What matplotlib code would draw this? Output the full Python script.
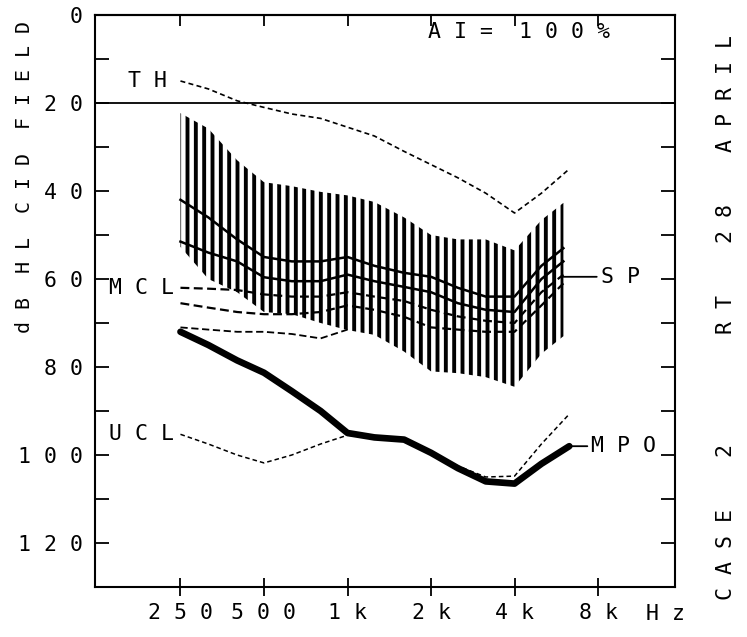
import matplotlib
matplotlib.use("Agg")
import matplotlib.pyplot as plt

# 1/3-octave frequencies used for the curves
freqs = [250, 315, 400, 500, 630, 800, 1000, 1250, 1600, 2000, 2500, 3150, 4000, 5000, 6300]
th_db = [15, 16.8, 19.5, 21, 22.5, 23.5, 25.5, 27.5, 31, 34, 37, 40.5, 45, 40.5, 35]
mpo_db = [72, 75, 78.5, 81.3, 85.5, 90, 95, 96, 96.5, 99.5, 103, 106, 106.5, 102, 98]
ucl_db = [95.3, 97.5, 100, 101.8, 100, 97.5, 95.5, 96, 96.5, 99.5, 102.5, 105, 104.8, 97.5, 90.7]

# amplified speech range (hatched band) and its inner curves
band_f = [250, 315, 400, 500, 630, 800, 1000, 1250, 1600, 2000, 2500, 3150, 4000, 5000, 6000]
band_top = [22.3, 25.8, 33, 38, 38.9, 40.2, 41, 42.5, 46, 50, 51, 51, 53.5, 46.6, 42.7]
band_bot = [52.7, 60, 63, 67.5, 68, 70, 71.6, 72.7, 76.5, 81, 81.4, 82.3, 84.5, 77, 73]
sp_a = [42, 46, 51, 55, 56, 56, 55, 57, 58.6, 59.5, 62, 64, 64, 57, 53]
sp_b = [51.5, 54, 56, 59.6, 60.5, 60.5, 59, 60.5, 61.8, 63, 65.5, 67, 67.5, 60, 56]
mcl_a = [62, 62.2, 62.5, 63.5, 64, 64, 63, 64, 65, 67, 68.5, 69.5, 70, 63, 59]
mcl_b = [65.5, 66.5, 67.5, 68, 68, 67.5, 66, 67, 68.6, 71, 71.5, 72, 72, 66, 61]
mcl_f = [250, 315, 400, 500, 630, 800, 1000]
mcl_c = [71, 71.5, 72, 72, 72.5, 73.5, 71.5]

xticks = [250, 500, 1000, 2000, 4000, 8000]
xlabels = ['2 5 0', '5 0 0', '1 k', '2 k', '4 k', '8 k']
yticks = [0, 20, 40, 60, 80, 100, 120]
ylabels = ['0', '2 0', '4 0', '6 0', '8 0', '1 0 0', '1 2 0']

plt.rcParams['font.family'] = 'DejaVu Sans Mono'
plt.rcParams['font.size'] = 15.5
plt.rcParams['hatch.linewidth'] = 2.8
plt.rcParams['hatch.color'] = 'black'

fig = plt.figure(figsize=(7.47, 6.37), dpi=100)
ax = fig.add_axes([95 / 747, 50 / 637, 580 / 747, 572 / 637])
ax.set_xscale('log')
ax.set_xlim(123, 15150)
ax.set_ylim(130, 0)

# reference line at 20 dB
ax.axhline(20, color='black', lw=1.3)

ax.fill_between(band_f, band_top, band_bot, facecolor='none', edgecolor='black',
                hatch='||', linewidth=0)
ax.plot(band_f, sp_a, color='black', lw=1.8)
ax.plot(band_f, sp_b, color='black', lw=1.8)
ax.plot(band_f, mcl_a, color='black', lw=1.6, ls=(0, (4, 2)))
ax.plot(band_f, mcl_b, color='black', lw=1.6, ls=(0, (4, 2)))
ax.plot(mcl_f, mcl_c, color='black', lw=1.3, ls=(0, (4, 2)))

ax.plot(freqs, th_db, color='black', lw=1.2, ls=(0, (3, 2)))
ax.plot(freqs, ucl_db, color='black', lw=1.1, ls=(0, (3, 2)))
ax.plot(freqs, mpo_db, color='black', lw=4.8, solid_capstyle='round')

# curve labels
ax.annotate('T H', xy=(freqs[0], th_db[0]), xytext=(-10, 0), textcoords='offset points',
            ha='right', va='center')
ax.annotate('M C L', xy=(band_f[0], mcl_a[0]), xytext=(-5, 0), textcoords='offset points',
            ha='right', va='center')
ax.annotate('U C L', xy=(freqs[0], ucl_db[0]), xytext=(-5, 0), textcoords='offset points',
            ha='right', va='center')
ax.annotate('S P', xy=(band_f[-1], 59.5), xytext=(27, 0), textcoords='offset points',
            ha='left', va='center',
            arrowprops=dict(arrowstyle='-', color='black', lw=1.3, shrinkA=1, shrinkB=0))
ax.annotate('M P O', xy=(freqs[-1], mpo_db[-1]), xytext=(16, 0), textcoords='offset points',
            ha='left', va='center',
            arrowprops=dict(arrowstyle='-', color='black', lw=1.3, shrinkA=1, shrinkB=2))
ax.text(0.731, 0.970, 'A I =  1 0 0 %', transform=ax.transAxes, ha='center', va='center')

# axes and ticks
ax.set_xticks(xticks)
ax.set_xticklabels(xlabels)
ax.xaxis.set_minor_locator(matplotlib.ticker.NullLocator())
ax.tick_params(axis='x', which='major', direction='inout', length=13, width=1.3, pad=5)
ax.text(0.983, -0.048, 'H z', transform=ax.transAxes, ha='center', va='center')

top = ax.secondary_xaxis('top')
top.set_xticks(xticks)
top.set_xticklabels([])
top.xaxis.set_minor_locator(matplotlib.ticker.NullLocator())
top.tick_params(direction='in', length=8, width=1.3)
top.spines['top'].set_linewidth(1.5)

ax.set_yticks(yticks)
ax.set_yticklabels(ylabels)
ax.set_yticks(range(10, 131, 20), minor=True)
ax.tick_params(axis='y', which='both', direction='in', length=10, width=1.3, right=True, pad=9)
for s in ax.spines.values():
    s.set_linewidth(1.5)

fig.text(25 / 747, 1 - 177 / 637, 'd B  H L  C I D  F I E L D', rotation=90,
         ha='center', va='center', fontsize=14.3)
fig.text(726 / 747, 1 - 185 / 637, 'R T    2 8    A P R I L', rotation=90,
         ha='center', va='center')
fig.text(726 / 747, 1 - 522 / 637, 'C A S E    2', rotation=90,
         ha='center', va='center')

fig.savefig('out.png', dpi=100)
